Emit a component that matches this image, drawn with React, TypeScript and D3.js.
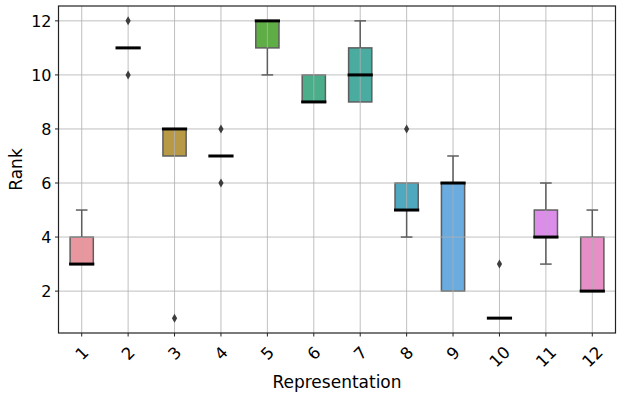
import React from 'react';
import * as d3 from 'd3';

// rank distribution per representation (box stats)
const categories = ['1', '2', '3', '4', '5', '6', '7', '8', '9', '10', '11', '12'];
const q1 = [3, 11, 7, 7, 11, 9, 9, 5, 2, 1, 4, 2];
const medians = [3, 11, 8, 7, 12, 9, 10, 5, 6, 1, 4, 2];
const q3 = [4, 11, 8, 7, 12, 10, 11, 6, 6, 1, 5, 4];
const whiskerLow = [3, 11, 7, 7, 10, 9, 9, 4, 2, 1, 3, 2];
const whiskerHigh = [5, 11, 8, 7, 12, 10, 12, 6, 7, 1, 6, 5];
const outliers = [[], [12, 10], [1], [8, 6], [], [], [], [8], [], [3], [], []];
const colors = ['#e9969f', '#d59a5c', '#b89a46', '#8ea545', '#5fae45', '#4aae8b',
  '#4aaba0', '#4ea8be', '#6aabe0', '#a49be8', '#dc8de9', '#e68fc6'];
const yTicks = [2, 4, 6, 8, 10, 12];

const W = 623;
const H = 397;
const margin = { top: 6, right: 7.5, bottom: 64, left: 58.5 };
const font = 'DejaVu Sans, sans-serif';

const App = () => {
  const x = d3.scaleBand().domain(categories).range([margin.left, W - margin.right]);
  const y = d3.scaleLinear().domain([0.45, 12.55]).range([H - margin.bottom, margin.top]);
  const bw = x.bandwidth();
  const boxW = bw * 0.5;
  const capW = boxW * 0.5;
  const cx = (i: number) => x(categories[i])! + bw / 2;
  const edge = '#5e5e5e';
  const x0 = margin.left, x1 = W - margin.right;
  const y0 = H - margin.bottom, y1 = margin.top;

  return (
    <svg width={W} height={H} style={{ position: 'absolute', left: 0, top: 0, background: '#fff' }}>
      {/* boxes */}
      {categories.map((c, i) => (
        <rect key={'b' + c} x={cx(i) - boxW / 2} y={y(q3[i])} width={boxW}
          height={y(q1[i]) - y(q3[i])} fill={colors[i]} stroke={edge} strokeWidth={1.5} />
      ))}
      {/* grid drawn over the boxes */}
      <g stroke="#b0b0b0" strokeWidth={0.8}>
        {categories.map(c => (
          <line key={'gx' + c} x1={x(c)! + bw / 2} x2={x(c)! + bw / 2} y1={y0} y2={y1} />
        ))}
        {yTicks.map(t => (
          <line key={'gy' + t} x1={x0} x2={x1} y1={y(t)} y2={y(t)} />
        ))}
      </g>
      {/* whiskers and caps */}
      <g stroke={edge} strokeWidth={1.5}>
        {categories.map((c, i) => (
          <g key={'w' + c}>
            {whiskerHigh[i] > q3[i] && (
              <>
                <line x1={cx(i)} x2={cx(i)} y1={y(q3[i])} y2={y(whiskerHigh[i])} />
                <line x1={cx(i) - capW / 2} x2={cx(i) + capW / 2} y1={y(whiskerHigh[i])} y2={y(whiskerHigh[i])} />
              </>
            )}
            {whiskerLow[i] < q1[i] && (
              <>
                <line x1={cx(i)} x2={cx(i)} y1={y(q1[i])} y2={y(whiskerLow[i])} />
                <line x1={cx(i) - capW / 2} x2={cx(i) + capW / 2} y1={y(whiskerLow[i])} y2={y(whiskerLow[i])} />
              </>
            )}
          </g>
        ))}
      </g>
      {/* medians */}
      {categories.map((c, i) => (
        <line key={'m' + c} x1={cx(i) - boxW / 2 - 1} x2={cx(i) + boxW / 2 + 1}
          y1={y(medians[i])} y2={y(medians[i])} stroke="#000" strokeWidth={3} />
      ))}
      {/* outliers */}
      {categories.map((c, i) => outliers[i].map(v => (
        <path key={'o' + c + v} transform={`translate(${cx(i)},${y(v)})`}
          d="M0,-4.5L2.6,0L0,4.5L-2.6,0Z" fill="#3d3d3d" />
      )))}
      {/* frame */}
      <rect x={x0} y={y1} width={x1 - x0} height={y0 - y1} fill="none" stroke="#222" strokeWidth={1.2} />
      {/* y axis */}
      {yTicks.map(t => (
        <g key={'yt' + t}>
          <line x1={x0 - 3.5} x2={x0} y1={y(t)} y2={y(t)} stroke="#222" strokeWidth={1} />
          <text x={x0 - 7} y={y(t)} dy="0.36em" textAnchor="end" fontFamily={font} fontSize={16} fill="#000">{t}</text>
        </g>
      ))}
      {/* x axis */}
      {categories.map(c => {
        const px = x(c)! + bw / 2;
        const tw = c.length * 10.2;
        const cy = y0 + 10 + (tw + 18) * 0.707 / 2;
        return (
          <g key={'xt' + c}>
            <line x1={px} x2={px} y1={y0} y2={y0 + 3.5} stroke="#222" strokeWidth={1} />
            <text transform={`translate(${px},${cy}) rotate(-45)`} textAnchor="middle" dy="0.36em"
              fontFamily={font} fontSize={16.5} fill="#000">{c}</text>
          </g>
        );
      })}
      <text x={(x0 + x1) / 2} y={388} textAnchor="middle" fontFamily={font} fontSize={17} fill="#000">Representation</text>
      <text transform={`translate(22,${(y0 + y1) / 2}) rotate(-90)`} textAnchor="middle" fontFamily={font}
        fontSize={17} fill="#000">Rank</text>
    </svg>
  );
};

export default App;
